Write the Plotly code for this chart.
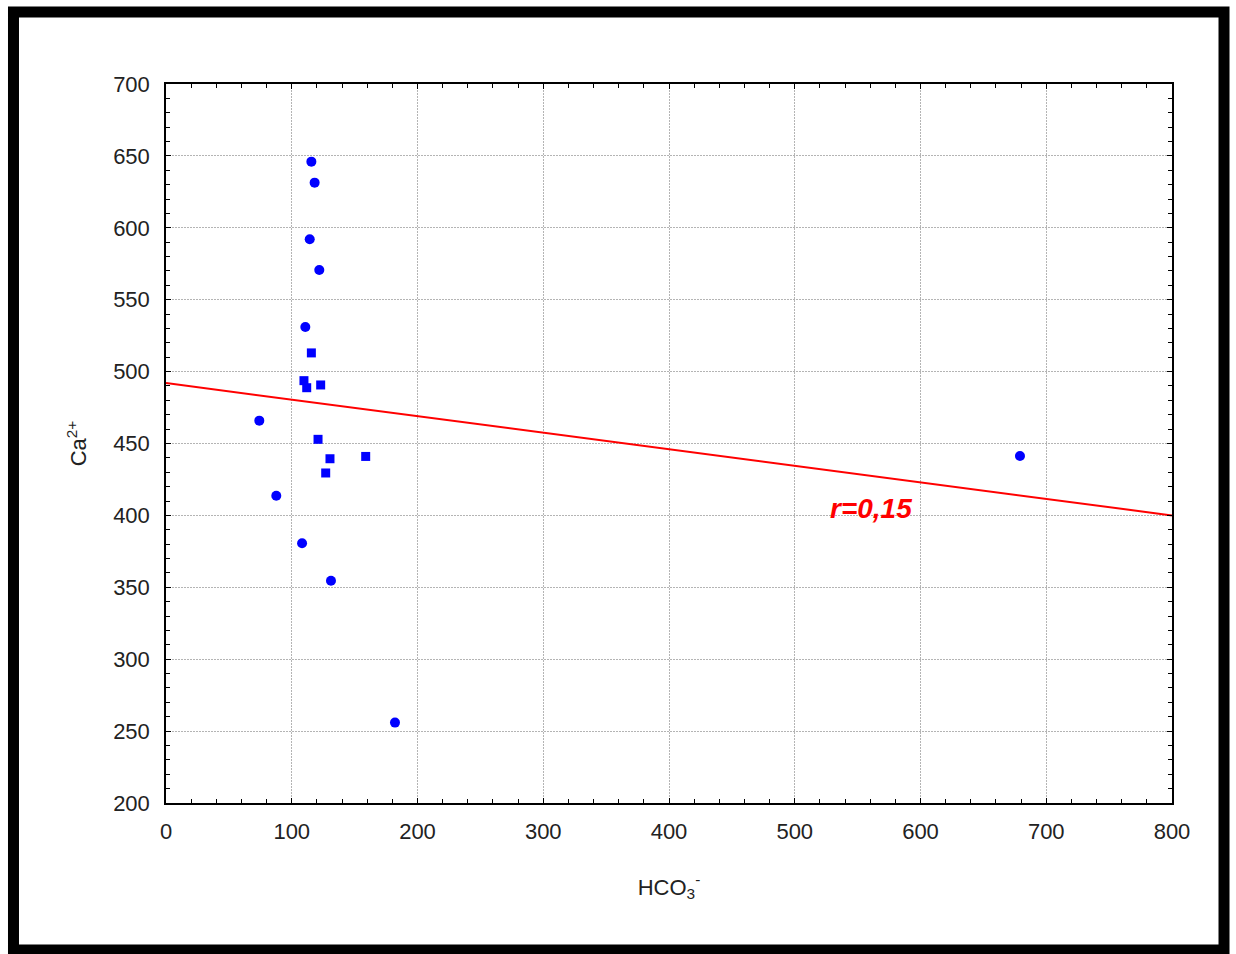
import plotly.graph_objects as go

# Data
hco3 = [115.6, 118.2, 114.3, 121.9, 110.8, 115.6, 109.7, 111.9, 123.0, 74.2,
        120.9, 130.4, 158.8, 127.0, 87.7, 108.2, 131.2, 182.1, 679.1]
ca = [646.0, 631.4, 592.0, 570.7, 531.0, 513.0, 493.7, 488.8, 490.7, 465.9,
      452.9, 439.4, 441.0, 429.5, 413.7, 380.6, 354.6, 255.9, 441.3]
point_shape = ["circle"] * 5 + ["square"] * 4 + ["circle"] + ["square"] * 4 + ["circle"] * 5

fit_x = [0, 800]
fit_y = [492.0, 400.0]
r_label = "r=0,15"
r_pos = (561, 405)

x_ticks = [0, 100, 200, 300, 400, 500, 600, 700, 800]
y_ticks = [200, 250, 300, 350, 400, 450, 500, 550, 600, 650, 700]

FONT = "Liberation Sans, Arial, sans-serif"

fig = go.Figure()
fig.add_trace(go.Scatter(
    x=fit_x, y=fit_y, mode="lines",
    line=dict(color="#ff0000", width=2), hoverinfo="skip", showlegend=False,
))
fig.add_trace(go.Scatter(
    x=hco3, y=ca, mode="markers",
    marker=dict(color="#0000ff", size=[10 if s == "circle" else 9 for s in point_shape],
                symbol=point_shape, opacity=1, line=dict(width=0)),
    showlegend=False,
))

fig.add_annotation(
    x=r_pos[0], y=r_pos[1], text="<b><i>" + r_label + "</i></b>", showarrow=False,
    font=dict(family=FONT, size=28, color="#ff0000"), xanchor="center", yanchor="middle",
)

# outer black frame
fig.add_shape(type="rect", xref="paper", yref="paper",
              x0=-0.1516, x1=1.0517, y0=-0.2045, y1=1.1001,
              line=dict(color="black", width=11), fillcolor="rgba(0,0,0,0)", layer="above")

axis_common = dict(
    showline=True, linecolor="black", linewidth=1.5, mirror="allticks",
    ticks="inside", ticklen=5, tickcolor="black", tickwidth=1,
    showgrid=True, gridcolor="#b4b4b4", gridwidth=1, griddash="1.5px,1.5px",
    zeroline=False, tickfont=dict(family=FONT, size=22, color="#222222"),
)

fig.update_xaxes(
    range=[0, 800], tickmode="array", tickvals=x_ticks, ticktext=[str(v) for v in x_ticks],
    minor=dict(ticks="inside", ticklen=4, dtick=20, tickcolor="black", showgrid=False),
    title=dict(text="HCO<sub>3</sub><sup>-</sup>", font=dict(family=FONT, size=22, color="#222222"), standoff=36),
    ticklabelstandoff=8,
    **axis_common,
)
fig.update_yaxes(
    range=[200, 700], tickmode="array", tickvals=y_ticks, ticktext=[str(v) for v in y_ticks],
    minor=dict(ticks="inside", ticklen=4, dtick=10, tickcolor="black", showgrid=False),
    title=dict(text="Ca<sup>2+</sup>", font=dict(family=FONT, size=22, color="#222222"), standoff=20),
    ticklabelstandoff=10,
    **axis_common,
)

fig.update_layout(
    width=1236, height=954, autosize=False,
    margin=dict(l=166, r=64, t=84, b=151, pad=0),
    paper_bgcolor="white", plot_bgcolor="white",
    font=dict(family=FONT),
)

fig.write_html("out.html", config={"displayModeBar": False},
               post_script="document.body.style.margin='0';document.body.style.overflow='hidden';")
